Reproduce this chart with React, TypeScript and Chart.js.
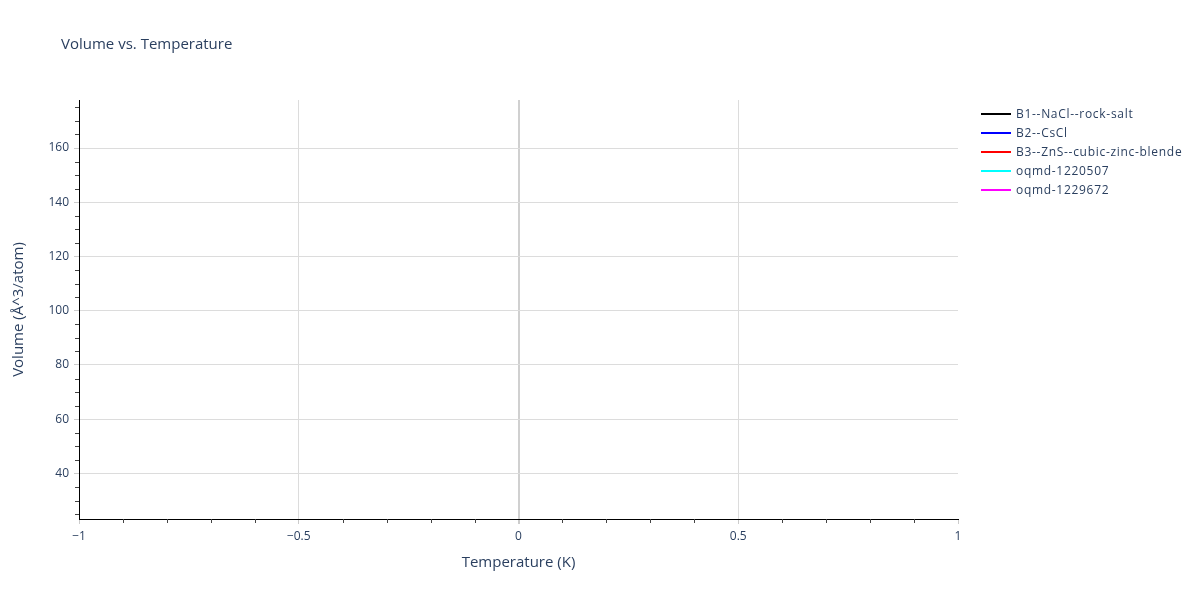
import { useEffect, useRef } from 'react';
import { Chart, registerables } from 'chart.js';

Chart.register(...registerables);

// each phase has only one point (T = 0 K), so no line is visible
const temperatures = [0];
const seriesNames = [
  'B1--NaCl--rock-salt',
  'B2--CsCl',
  'B3--ZnS--cubic-zinc-blende',
  'oqmd-1220507',
  'oqmd-1229672',
];
const seriesColors = ['black', 'blue', 'red', 'cyan', 'magenta'];
const volumesB1 = [95.0];
const volumesB2 = [30.2];
const volumesB3 = [170.7];
const volumesOqmd1220507 = [62.0];
const volumesOqmd1229672 = [128.0];
const volumeSeries = [volumesB1, volumesB2, volumesB3, volumesOqmd1220507, volumesOqmd1229672];

const yMajorTicks = [40, 60, 80, 100, 120, 140, 160];
const xMajorTicks = [-1, -0.5, 0, 0.5, 1];

const FONT = '"Open Sans", verdana, arial, sans-serif';
const TEXT = '#2a3f5f';

const decorations = {
  id: 'decorations',
  afterDraw(chart: any) {
    const { ctx, chartArea, scales } = chart;
    const x = scales.x;
    const y = scales.y;
    ctx.save();
    // minor ticks
    ctx.strokeStyle = '#444';
    ctx.lineWidth = 1;
    ctx.beginPath();
    for (let v = 25; v <= 175; v += 5) {
      if (v % 20 === 0) continue;
      const py = Math.round(y.getPixelForValue(v)) + 0.5;
      ctx.moveTo(chartArea.left - 4, py);
      ctx.lineTo(chartArea.left, py);
    }
    for (let i = -9; i <= 9; i++) {
      if (i % 5 === 0) continue;
      const px = Math.round(x.getPixelForValue(i / 10)) + 0.5;
      ctx.moveTo(px, chartArea.bottom);
      ctx.lineTo(px, chartArea.bottom + 4);
    }
    ctx.stroke();

    // title
    ctx.fillStyle = TEXT;
    ctx.font = `15px ${FONT}`;
    ctx.textAlign = 'left';
    ctx.textBaseline = 'middle';
    ctx.fillText('Volume vs. Temperature', 61, 45);

    // legend
    ctx.font = `12px ${FONT}`;
    (ctx as any).letterSpacing = '0.7px';
    chart.data.datasets.forEach((ds: any, i: number) => {
      const ly = 115 + 19 * i;
      ctx.strokeStyle = ds.borderColor;
      ctx.lineWidth = 2;
      ctx.beginPath();
      ctx.moveTo(981, ly - 1);
      ctx.lineTo(1011, ly - 1);
      ctx.stroke();
      ctx.fillStyle = TEXT;
      ctx.fillText(ds.label, 1016, ly);
    });
    ctx.restore();
  },
};

export default function App() {
  const canvasRef = useRef<HTMLCanvasElement>(null);

  useEffect(() => {
    document.body.style.margin = '0';
    if (!canvasRef.current) return;
    const chart = new Chart(canvasRef.current, {
      type: 'line',
      data: {
        datasets: seriesNames.map((name, i) => ({
          label: name,
          data: temperatures.map((t, j) => ({ x: t, y: volumeSeries[i][j] })),
          borderColor: seriesColors[i],
          backgroundColor: seriesColors[i],
          borderWidth: 2,
          pointRadius: 0,
          showLine: true,
        })),
      },
      options: {
        responsive: false,
        animation: false,
        layout: { padding: { left: 0, right: 242, top: 100, bottom: 0 } },
        plugins: {
          legend: { display: false },
          title: { display: false },
          tooltip: { enabled: false },
        },
        scales: {
          x: {
            type: 'linear',
            min: -1,
            max: 1,
            afterBuildTicks: (s: any) => {
              s.ticks = xMajorTicks.map((v) => ({ value: v }));
            },
            afterFit: (s: any) => {
              s.height = 81;
            },
            ticks: {
              autoSkip: false,
              maxRotation: 0,
              padding: 5,
              color: TEXT,
              font: { family: FONT, size: 12 },
              callback: (v: any) => String(v).replace('-', '\u2212'),
            },
            grid: {
              drawTicks: true,
              tickLength: 5,
              tickColor: '#ccc',
              color: (c: any) =>
                Math.abs(c.tick?.value) === 1 ? 'rgba(0,0,0,0)' : c.tick?.value === 0 ? '#d0d0d0' : '#dcdcdc',
              lineWidth: (c: any) => (c.tick?.value === 0 ? 2 : 1),
            },
            border: { display: true, color: '#000', width: 1 },
            title: {
              display: true,
              text: 'Temperature (K)',
              color: TEXT,
              font: { family: FONT, size: 15 },
              padding: { top: 0, bottom: 28 },
            },
          },
          y: {
            type: 'linear',
            min: 23.2,
            max: 177.7,
            afterBuildTicks: (s: any) => {
              s.ticks = yMajorTicks.map((v) => ({ value: v }));
            },
            afterFit: (s: any) => {
              s.width = 79;
            },
            ticks: {
              autoSkip: false,
              padding: 5,
              color: TEXT,
              font: { family: FONT, size: 12 },
            },
            grid: {
              drawTicks: true,
              tickLength: 5,
              tickColor: '#ccc',
              color: '#dcdcdc',
            },
            border: { display: true, color: '#000', width: 1 },
            title: {
              display: true,
              text: 'Volume (Å^3/atom)',
              color: TEXT,
              font: { family: FONT, size: 15 },
              padding: { top: 10, bottom: 0 },
            },
          },
        },
      },
      plugins: [decorations],
    });
    return () => chart.destroy();
  }, []);

  return (
    <div style={{ width: 1200, height: 600, background: '#fff' }}>
      <canvas ref={canvasRef} width={1200} height={600} />
    </div>
  );
}
